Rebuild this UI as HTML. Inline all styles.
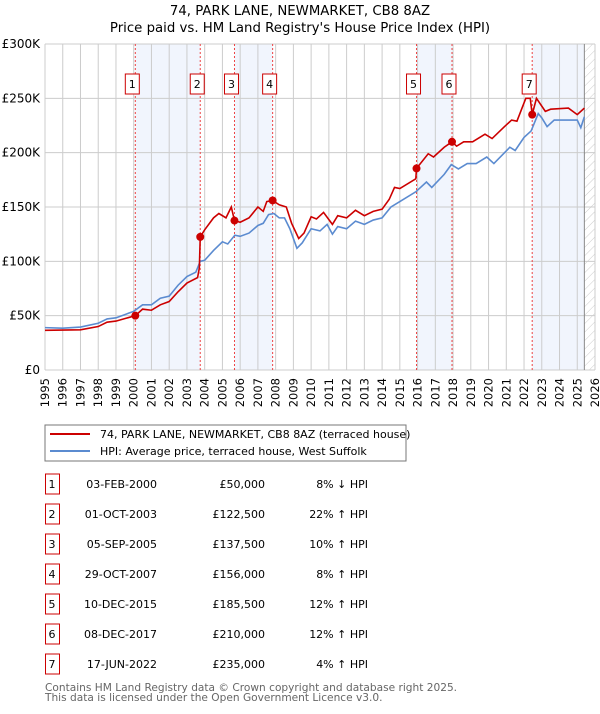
<!DOCTYPE html>
<html><head><meta charset="utf-8"><style>
body{margin:0;background:#fff;font-family:"DejaVu Sans","Liberation Sans",sans-serif;}
svg text{font-family:"DejaVu Sans","Liberation Sans",sans-serif;}
</style></head><body>
<svg id="c" width="600" height="710" xmlns="http://www.w3.org/2000/svg">
<defs><pattern id="hatch" width="6" height="6" patternUnits="userSpaceOnUse" patternTransform="rotate(45)"><line x1="0" y1="0" x2="0" y2="6" stroke="#ccc" stroke-width="1"/></pattern></defs>
<text x="300" y="15" text-anchor="middle" font-size="13.3">74, PARK LANE, NEWMARKET, CB8 8AZ</text>
<text x="300" y="32" text-anchor="middle" font-size="13.3">Price paid vs. HM Land Registry's House Price Index (HPI)</text>
<g id="plot"></g>
<rect x="45" y="425" width="361" height="36" fill="#fff" stroke="#777"/>
<line x1="50" y1="434" x2="90" y2="434" stroke="#cc0000" stroke-width="2"/>
<text x="100" y="438" font-size="11">74, PARK LANE, NEWMARKET, CB8 8AZ (terraced house)</text>
<line x1="50" y1="451" x2="90" y2="451" stroke="#5b8bd0" stroke-width="2"/>
<text x="100" y="455" font-size="11">HPI: Average price, terraced house, West Suffolk</text>
<g id="tbl"></g>
<text x="45" y="691" font-size="10.6" fill="#666">Contains HM Land Registry data © Crown copyright and database right 2025.</text>
<text x="45" y="701" font-size="10.6" fill="#666">This data is licensed under the Open Government Licence v3.0.</text>
</svg>
<script>
const hpiYears=[1995,1996,1997,1998,1998.5,1999,1999.5,2000,2000.5,2001,2001.5,2002,2002.5,2003,2003.5,2003.75,2004,2004.5,2005,2005.3,2005.7,2006,2006.5,2007,2007.3,2007.6,2007.9,2008.2,2008.5,2008.8,2009.2,2009.5,2010,2010.5,2010.9,2011.2,2011.5,2012,2012.5,2013,2013.5,2014,2014.5,2015,2015.9,2016.5,2016.8,2017.5,2017.9,2018.3,2018.8,2019.3,2019.9,2020.3,2020.9,2021.2,2021.5,2022,2022.4,2022.8,2023,2023.3,2023.7,2024.3,2025,2025.2,2025.4];
const hpiValues=[39,38.5,39.5,43,47,48,51,54,60,60,66,68,78,86,90,100,101,110,118,116,124,123,126,133,135,143,144,140,140,130,112,117,130,128,134,125,132,130,137,134,138,140,150,155,164,173,168,180,189,185,190,190,196,190,200,205,202,214,220,236,232,224,230,230,230,223,233];
const priceYears=[1995,1997,1998,1998.5,1999,2000.09,2000.5,2001,2001.5,2002,2002.5,2003,2003.6,2003.7,2003.75,2004,2004.5,2004.8,2005.2,2005.5,2005.68,2006,2006.5,2007,2007.3,2007.5,2007.83,2008.2,2008.6,2008.9,2009.3,2009.6,2010,2010.3,2010.7,2011.2,2011.5,2012,2012.5,2013,2013.5,2014,2014.4,2014.7,2015,2015.9,2015.94,2016.6,2016.9,2017.5,2017.94,2018.2,2018.6,2019.1,2019.8,2020.2,2020.9,2021.3,2021.6,2022.1,2022.35,2022.46,2022.7,2023.2,2023.5,2024.5,2025,2025.4];
const priceValues=[36.5,37,40,44,45,50,56,55,60,63,72,80,85,94,122.5,129,140,144,140,150,137.5,136,140,150,146,155,156,152,150,135,121,126,141,139,145,134,142,140,147,142,146,148,157,168,167,176,185.5,199,196,205,210,206,210,210,217,213,224,230,229,250,250,235,250,238,240,241,235,241];
const saleLabels=["1","2","3","4","5","6","7"];
const saleYears=[2000.09,2003.75,2005.68,2007.83,2015.94,2017.94,2022.46];
const saleValues=[50,122.5,137.5,156,185.5,210,235];
const saleDates=["03-FEB-2000","01-OCT-2003","05-SEP-2005","29-OCT-2007","10-DEC-2015","08-DEC-2017","17-JUN-2022"];
const salePrices=["£50,000","£122,500","£137,500","£156,000","£185,500","£210,000","£235,000"];
const saleHpi=["8% ↓ HPI","22% ↑ HPI","10% ↑ HPI","8% ↑ HPI","12% ↑ HPI","12% ↑ HPI","4% ↑ HPI"];
const yTicks=[0,50,100,150,200,250,300];
const yTickLabels=["£0","£50K","£100K","£150K","£200K","£250K","£300K"];
const dataEnd=2025.4;

const X0=45,X1=595,Y0=370,Y1=44;
const x=t=>X0+(t-1995)/31*(X1-X0);
const y=v=>Y0-v/300*(Y0-Y1);
const NS="http://www.w3.org/2000/svg";
function mk(p,tag,a){const e=document.createElementNS(NS,tag);for(const k in a)e.setAttribute(k,a[k]);p.appendChild(e);return e;}
const g=document.getElementById('plot');
const shadeStarts=[saleYears[0],saleYears[2],saleYears[4],saleYears[6]];
const shadeEnds=[saleYears[1],saleYears[3],saleYears[5],dataEnd];
for(let i=0;i<shadeStarts.length;i++){
 const r=mk(g,'rect',{x:x(shadeStarts[i]),y:Y1,width:x(shadeEnds[i])-x(shadeStarts[i]),height:Y0-Y1,fill:'#eef3fc',opacity:0.8});
 
 
}
const h=mk(g,'rect',{x:x(dataEnd),y:Y1,width:X1-x(dataEnd),height:Y0-Y1,fill:'url(#hatch)'});


for(let yr=1995;yr<=2026;yr++){
 const l=mk(g,'line',{x1:x(yr),x2:x(yr),y1:Y1,y2:Y0,stroke:'#ccc','stroke-width':1});
 
 
 const t=mk(g,'text',{x:0,y:0,'font-size':11.5,'text-anchor':'end',transform:`translate(${x(yr)+4},378) rotate(-90)`});
 t.textContent=yr;
 
 
}
yTicks.forEach((v,i)=>{
 const l=mk(g,'line',{x1:X0,x2:X1,y1:y(v),y2:y(v),stroke:'#ccc','stroke-width':1});
 
 
 const t=mk(g,'text',{x:40,y:y(v)+4,'font-size':12,'text-anchor':'end'});
 t.textContent=yTickLabels[i];
 
 
});
const el=mk(g,'line',{x1:x(dataEnd),x2:x(dataEnd),y1:Y1,y2:Y0,stroke:'#888','stroke-width':1});


saleYears.forEach((s,i)=>{
 const l=mk(g,'line',{x1:x(s),x2:x(s),y1:Y1,y2:Y0,stroke:'#e44','stroke-width':1,'stroke-dasharray':'2,2'});
 
 
 const b=mk(g,'rect',{x:x(s)-10,y:74,width:14,height:20,fill:'#fff',stroke:'#cc0000','stroke-width':1});
 
 
 const t=mk(g,'text',{x:x(s)-3,y:88,'font-size':11,'text-anchor':'middle'});
 t.textContent=saleLabels[i];
 
 
});
const hp=mk(g,'polyline',{points:hpiYears.map((t,i)=>x(t)+','+y(hpiValues[i])).join(' '),fill:'none',stroke:'#5b8bd0','stroke-width':1.6});


const pp=mk(g,'polyline',{points:priceYears.map((t,i)=>x(t)+','+y(priceValues[i])).join(' '),fill:'none',stroke:'#cc0000','stroke-width':1.6});


saleYears.forEach((s,i)=>{
 const c=mk(g,'circle',{cx:x(s),cy:y(saleValues[i]),r:4,fill:'#cc0000'});
 
 
});
const tb=document.getElementById('tbl');
saleLabels.forEach((lab,i)=>{
 const yy=484+i*30;
 const b=mk(tb,'rect',{x:45.5,y:yy-10,width:14,height:20,fill:'#fff',stroke:'#cc0000'});
 
 
 const cells=[[52,'middle',lab],[157,'end',saleDates[i]],[265,'end',salePrices[i]],[368,'end',saleHpi[i]]];
 cells.forEach(c=>{
  const t=mk(tb,'text',{x:c[0],y:yy+4,'font-size':11,'text-anchor':c[1]});
  t.textContent=c[2];
  
  
 });
});
</script>
</body></html>
